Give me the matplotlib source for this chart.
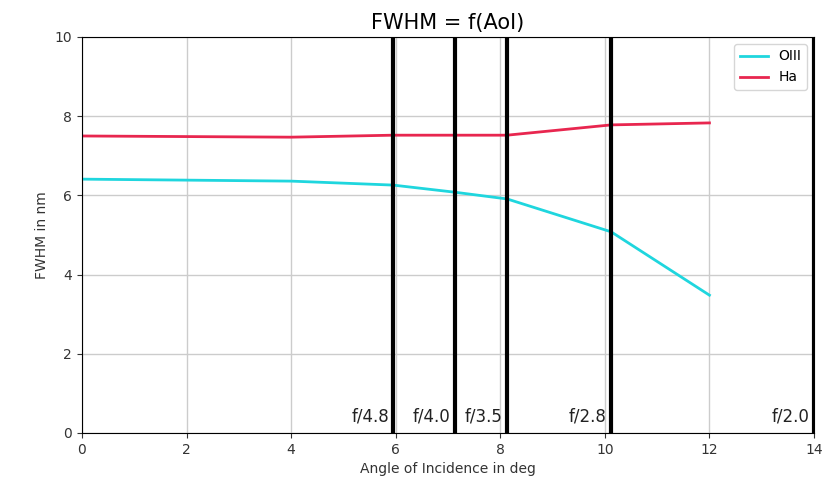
import matplotlib
matplotlib.use("Agg")
import matplotlib.pyplot as plt

# Data
aoi = [0, 4, 5.95, 7.13, 8.13, 10.12, 12]
fwhm_oiii = [6.41, 6.36, 6.26, 6.08, 5.91, 5.08, 3.48]
fwhm_ha = [7.50, 7.47, 7.52, 7.52, 7.52, 7.78, 7.83]
f_labels = ["f/4.8", "f/4.0", "f/3.5", "f/2.8", "f/2.0"]
f_angles = [5.95, 7.13, 8.13, 10.12, 14.0]

fig = plt.figure(figsize=(8.33, 4.84), dpi=100)
ax = fig.add_axes([0.0984, 0.1054, 0.8788, 0.8182])

ax.plot(aoi, fwhm_oiii, color="#1fd6de", lw=2, label="OIII")
ax.plot(aoi, fwhm_ha, color="#e8264f", lw=2, label="Ha")

for a, lab in zip(f_angles, f_labels):
    ax.axvline(a, color="black", lw=3)
    ax.text(a - 0.08, 0.2, lab, ha="right", va="bottom", fontsize=12, color="#222222")

ax.set_xlim(0, 14)
ax.set_ylim(0, 10)
ax.set_xticks(range(0, 15, 2))
ax.set_yticks(range(0, 11, 2))
ax.grid(True, color="#cccccc", lw=1)
ax.tick_params(labelsize=10, colors="#333333")
ax.set_xlabel("Angle of Incidence in deg", fontsize=10, color="#333333")
ax.set_ylabel("FWHM in nm", fontsize=10, color="#333333")
ax.set_title("FWHM = f(AoI)", fontsize=15, pad=6)
ax.legend(loc="upper right", fontsize=10)

fig.savefig("out.png", dpi=100)
